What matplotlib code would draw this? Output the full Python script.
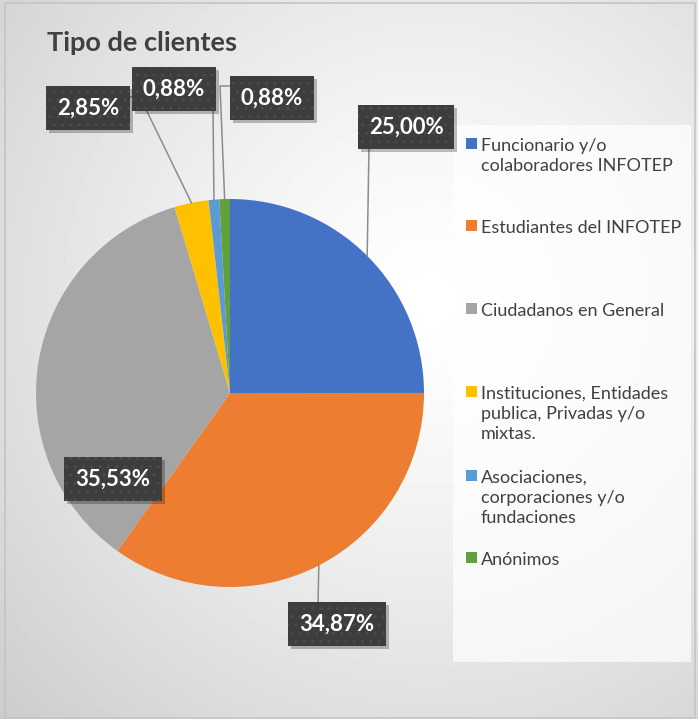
import numpy as np
import matplotlib.pyplot as plt
from matplotlib.patches import Rectangle

plt.rcParams['font.family'] = ['Lato', 'DejaVu Sans']

categories = ["Funcionario y/o\ncolaboradores INFOTEP",
              "Estudiantes del INFOTEP",
              "Ciudadanos en General",
              "Instituciones, Entidades\npublica, Privadas y/o\nmixtas.",
              "Asociaciones,\ncorporaciones y/o\nfundaciones",
              "Anónimos"]
shares = [25.00, 34.87, 35.53, 2.85, 0.88, 0.88]
colors = ['#4472C4', '#ED7D31', '#A5A5A5', '#FFC000', '#5B9BD5', '#62A03E']

W, H = 698, 719
fig = plt.figure(figsize=(W / 100, H / 100), dpi=100)
fig.patch.set_facecolor('white')
ax = fig.add_axes([0, 0, 1, 1])

def Y(y):
    # screen rows are counted from the top
    return H - y

# background of the chart area, light in the middle, grey at the edges
xx, yy = np.meshgrid(np.arange(W), np.arange(H))
d = np.hypot(xx - 430, yy - 300) / 600.0
bg = 1 - 0.2 * np.clip(d, 0, 1) ** 1.3
ax.imshow(bg, cmap='gray', vmin=0, vmax=1, extent=[0, W, 0, H], origin='upper', zorder=0)
ax.add_patch(Rectangle((5, 1), W - 8, H - 4, fill=False, ec='#c4c4c4', lw=1.2, zorder=1))

cx, cy, r = 230, Y(393), 194
wedges, _ = ax.pie(shares, colors=colors, startangle=90, counterclock=False,
                   center=(cx, cy), radius=r, wedgeprops=dict(linewidth=0, zorder=3))

# data labels
label_pos = [(406, 127), (337, 624), (113, 479), (88, 108), (174, 89), (272, 98)]
leader = [[(369, 147)], [(318, 604)], None, [(140, 97), (130, 97)],
          [(213, 109)], [(220, 86), (231, 86)]]
labels = []
cum = np.cumsum([0] + shares[:-1])
for i, v in enumerate(shares):
    mid = cum[i] + v / 2
    th = np.deg2rad(90 - 360 * mid / sum(shares))
    ex, ey = cx + r * np.cos(th), cy + r * np.sin(th)
    if leader[i]:
        px = [ex] + [p[0] for p in leader[i]]
        py = [ey] + [Y(p[1]) for p in leader[i]]
        ax.plot(px, py, color='#8c8c8c', lw=1.1, zorder=4)
    lx, ly = label_pos[i]
    t = ax.text(lx, Y(ly), f"{v:.2f}%".replace('.', ','), ha='center', va='center',
                fontsize=16, fontweight='bold', color='white', zorder=6,
                bbox=dict(boxstyle='square,pad=0.5', fc='#3d3d3d', ec='#4b4b4b',
                          hatch='..', lw=0))
    labels.append(t)

ax.text(47, Y(43), "Tipo de clientes", fontsize=19.5, fontweight='bold',
        color='#404040', ha='left', va='center', zorder=6)

# legend panel
ax.add_patch(Rectangle((453, Y(662)), 238, 537, fc='white', ec='none', alpha=0.7, zorder=2))
leg_y = [145, 227, 310, 393, 477, 559]
for name, c, ly in zip(categories, colors, leg_y):
    ax.add_patch(Rectangle((466, Y(ly) - 4), 11, 11, fc=c, ec='none', zorder=5))
    ax.text(481, Y(ly) + 7, name, fontsize=13, color='#404040', ha='left', va='top',
            linespacing=1.3, zorder=5)

ax.set_xlim(0, W)
ax.set_ylim(0, H)
ax.set_aspect('equal')
ax.axis('off')

# drop shadows under the label boxes
fig.canvas.draw()
inv = ax.transData.inverted()
for t in labels:
    bb = t.get_bbox_patch().get_window_extent()
    (x0, y0), (x1, y1) = inv.transform([(bb.x0, bb.y0), (bb.x1, bb.y1)])
    ax.add_patch(Rectangle((x0 + 3, y0 - 3), x1 - x0, y1 - y0, fc='black', ec='none',
                           alpha=0.25, zorder=5))

fig.savefig('out.png', dpi=100)
